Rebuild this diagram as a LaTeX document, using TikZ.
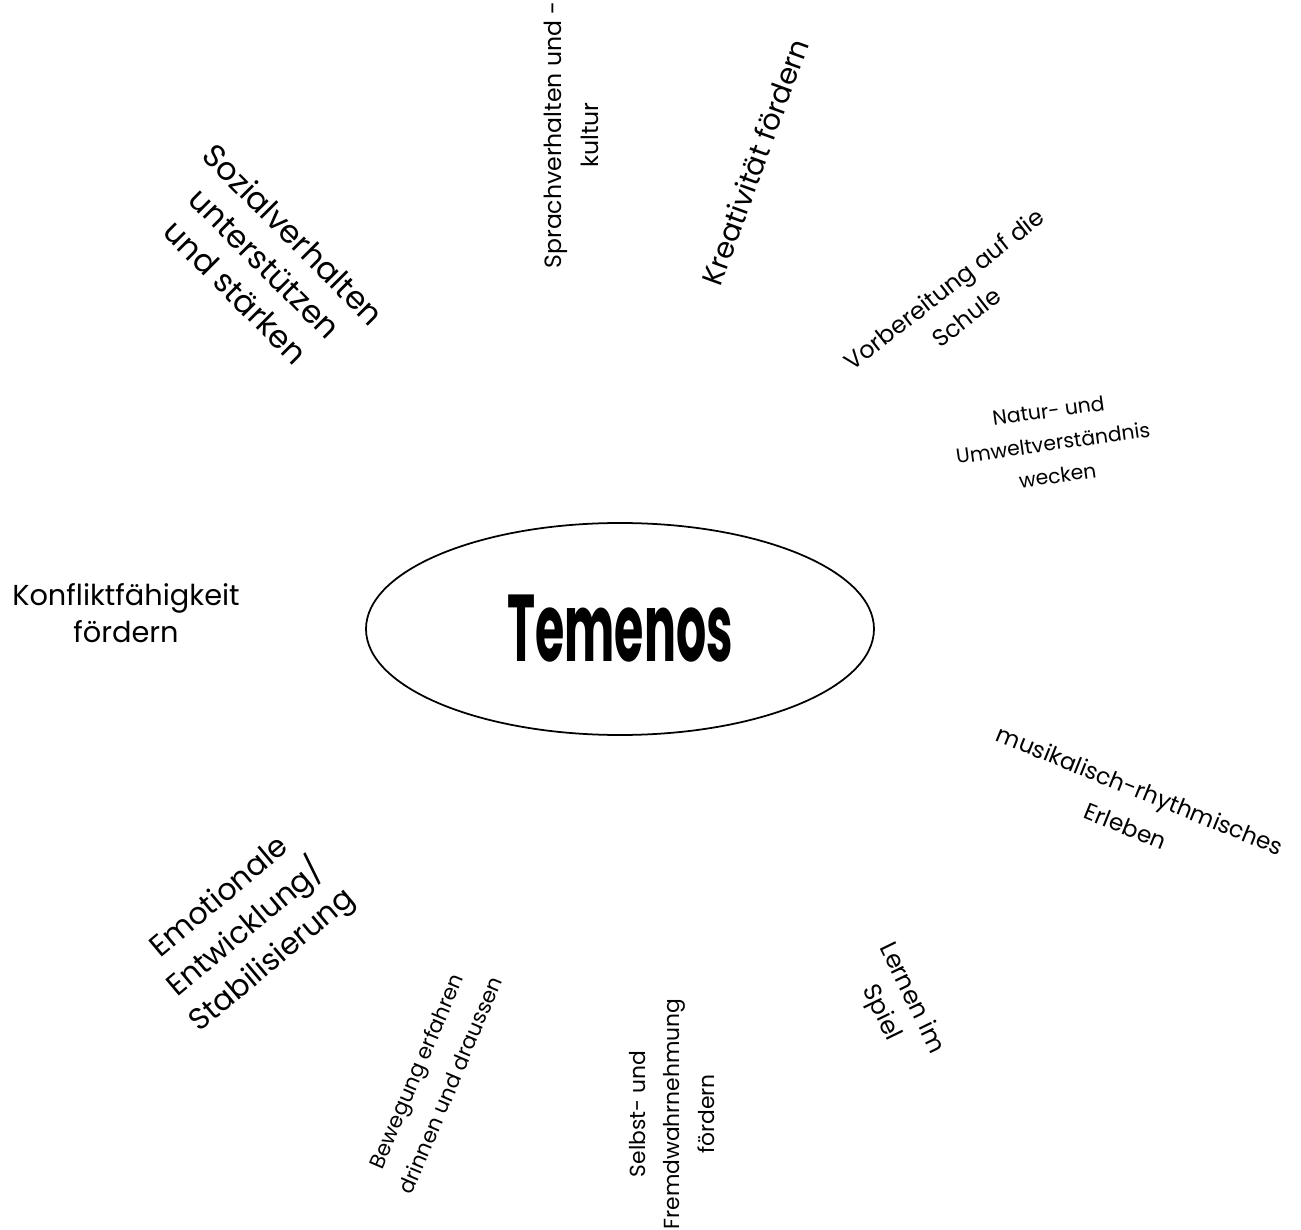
\documentclass[tikz,border=0pt]{standalone}
\usepackage{fontspec}
\setmainfont{Poppins}
\usetikzlibrary{shapes.geometric}

\begin{document}
\begin{tikzpicture}[
    topic/.style={align=center, inner sep=0pt}]
      \useasboundingbox (0, 0) rectangle (13.01, -12.30);
      % centre
      \node (temenos) [draw, ellipse, line width=0.5pt, minimum width=5.08cm,
            minimum height=2.12cm, inner sep=0pt] at (6.20, -6.29)
            {\fontsize{27}{30}\selectfont\bfseries\scalebox{0.5}[1]{Temenos}};
      % topics round the centre
      \node (sozial) [topic, font=\fontsize{9}{11.6}\selectfont, rotate=-45] at (2.65, -2.63)
            {Sozialverhalten\\unterstützen\\und stärken};
      \node (sprache) [topic, font=\fontsize{6.7}{10.5}\selectfont, rotate=90] at (5.71, -1.35)
            {Sprachverhalten und -\\kultur};
      \node (kreativ) [topic, font=\fontsize{8.2}{11}\selectfont, rotate=70] at (7.55, -1.62)
            {Kreativität fördern};
      \node (schule) [topic, font=\fontsize{6.8}{10.2}\selectfont, rotate=38] at (9.55, -3.03)
            {Vorbereitung auf die\\Schule};
      \node (natur) [topic, font=\fontsize{5.8}{9.3}\selectfont, rotate=8] at (10.53, -4.43)
            {Natur- und\\Umweltverständnis\\wecken};
      \node (konflikt) [topic, font=\fontsize{8.2}{10.4}\selectfont] at (1.26, -6.13)
            {Konfliktfähigkeit\\fördern};
      \node (musik) [topic, font=\fontsize{6.6}{11}\selectfont, rotate=-22] at (11.33, -8.08)
            {musikalisch-rhythmisches\\Erleben};
      \node (emotion) [topic, font=\fontsize{8.6}{11.7}\selectfont, rotate=40] at (2.47, -9.30)
            {Emotionale\\Entwicklung/\\Stabilisierung};
      \node (bewegung) [topic, font=\fontsize{6.05}{10.5}\selectfont, rotate=67] at (4.33, -10.78)
            {Bewegung erfahren\\drinnen und draussen};
      \node (selbst) [topic, font=\fontsize{6.2}{9.7}\selectfont, rotate=90] at (6.72, -11.14)
            {Selbst- und\\Fremdwahrnehmung\\fördern};
      \node (spiel) [topic, font=\fontsize{7}{9.6}\selectfont, rotate=-64] at (8.96, -10.06)
            {Lernen im\\Spiel};
\end{tikzpicture}
\end{document}
